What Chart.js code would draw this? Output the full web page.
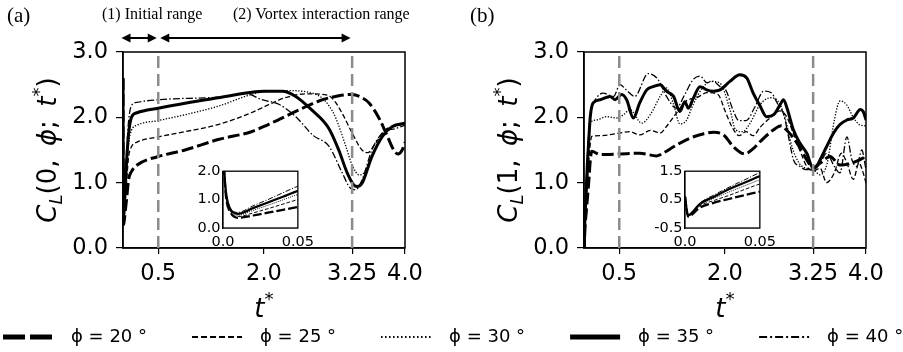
<!DOCTYPE html>
<html>
<head>
<meta charset="utf-8">
<script src="https://cdn.jsdelivr.net/npm/chart.js@4.4.1/dist/chart.umd.min.js"></script>
<style>
  html, body { margin: 0; padding: 0; background: #fff; overflow: hidden; }
  #fig { position: relative; width: 903px; height: 352px; overflow: hidden; }
  #fig canvas { position: absolute; }
  .note { position: absolute; font-family: 'Liberation Serif', 'Times New Roman', serif; color: #000; white-space: nowrap; line-height: 1; }
</style>
</head>
<body>
<div id="fig">
  <canvas id="chartA" width="440" height="330" style="left:0px;top:0px;width:440px;height:330px"></canvas>
  <canvas id="chartB" width="463" height="330" style="left:440px;top:0px;width:463px;height:330px"></canvas>
  <canvas id="insetA" width="142" height="92" style="left:178px;top:160px;width:142px;height:92px"></canvas>
  <canvas id="insetB" width="142" height="92" style="left:640px;top:160px;width:142px;height:92px"></canvas>
  <canvas id="legend" width="1100" height="260" style="left:-42px;top:283px;width:1100px;height:260px"></canvas>
  <div class="note" style="left:7px;top:5px;font-size:21px">(a)</div>
  <div class="note" style="left:470px;top:5px;font-size:21px">(b)</div>
  <div class="note" style="left:102px;top:6px;font-size:16px">(1) Initial range</div>
  <div class="note" style="left:233px;top:6px;font-size:16px">(2) Vortex interaction range</div>
</div>
<script>
// lift coefficient histories, one pair of arrays per flapping angle
const phiLabels = ['ϕ = 20 °', 'ϕ = 25 °', 'ϕ = 30 °', 'ϕ = 35 °', 'ϕ = 40 °'];
const tickT = [0.5, 2.0, 3.25, 4.0];
const insetTickT = [0, 0.05];
const markerT = [0.5, 3.25];
const rangeEdges = [0, 0.5, 3.25];

// (a) C_L(0, phi; t*)
const tA20 = [0, 0.002, 0.005, 0.01, 0.02, 0.03, 0.04, 0.05, 0.08, 0.12, 0.2, 0.5, 0.88, 1.35, 1.82, 2.06, 2.45, 2.78, 3.06, 3.25, 3.39, 3.49, 3.63, 3.75, 3.84, 3.9, 3.96, 4.0];
const cA20 = [2.6, 1.1, 0.55, 0.36, 0.44, 0.54, 0.64, 0.74, 1.05, 1.17, 1.27, 1.40, 1.50, 1.66, 1.78, 1.89, 2.09, 2.25, 2.33, 2.35, 2.30, 2.22, 1.99, 1.71, 1.50, 1.44, 1.50, 1.62];
const tA25 = [0, 0.002, 0.005, 0.01, 0.02, 0.03, 0.04, 0.05, 0.08, 0.12, 0.2, 0.5, 0.88, 1.35, 1.82, 2.06, 2.3, 2.6, 2.9, 3.0, 3.11, 3.25, 3.39, 3.47, 3.58, 3.72, 3.86, 4.0];
const cA25 = [2.6, 1.15, 0.6, 0.4, 0.53, 0.68, 0.84, 1.0, 1.4, 1.55, 1.62, 1.70, 1.78, 1.89, 2.07, 2.19, 2.30, 2.36, 2.34, 2.25, 2.06, 1.76, 1.50, 1.46, 1.60, 1.81, 1.86, 1.90];
const tA30 = [0, 0.002, 0.005, 0.01, 0.02, 0.03, 0.04, 0.05, 0.08, 0.12, 0.2, 0.5, 0.88, 1.35, 1.82, 2.0, 2.3, 2.6, 2.82, 2.92, 3.01, 3.16, 3.25, 3.35, 3.41, 3.53, 3.68, 3.82, 4.0];
const cA30 = [2.6, 1.2, 0.62, 0.45, 0.62, 0.8, 0.99, 1.18, 1.6, 1.80, 1.88, 1.95, 2.04, 2.17, 2.35, 2.39, 2.41, 2.39, 2.30, 2.18, 2.01, 1.56, 1.27, 1.12, 1.14, 1.40, 1.72, 1.86, 1.90];
const tA35 = [0, 0.002, 0.005, 0.01, 0.02, 0.03, 0.04, 0.05, 0.08, 0.12, 0.2, 0.5, 0.9, 1.35, 1.8, 2.0, 2.26, 2.45, 2.68, 2.92, 3.06, 3.18, 3.27, 3.32, 3.39, 3.53, 3.68, 3.82, 4.0];
const cA35 = [2.6, 1.25, 0.65, 0.5, 0.7, 0.9, 1.1, 1.31, 1.75, 2.0, 2.07, 2.14, 2.22, 2.30, 2.38, 2.40, 2.40, 2.32, 2.11, 1.83, 1.50, 1.15, 0.97, 0.94, 0.99, 1.40, 1.71, 1.86, 1.91];
const tA40 = [0, 0.002, 0.005, 0.01, 0.02, 0.03, 0.04, 0.05, 0.08, 0.12, 0.2, 0.5, 1.35, 1.75, 1.97, 2.21, 2.45, 2.7, 2.92, 3.11, 3.23, 3.3, 3.39, 3.53, 3.68, 3.87, 4.0];
const cA40 = [2.6, 1.3, 0.7, 0.55, 0.78, 1.0, 1.24, 1.47, 1.95, 2.18, 2.23, 2.27, 2.31, 2.36, 2.27, 2.20, 2.01, 1.72, 1.56, 1.15, 0.91, 0.89, 1.04, 1.50, 1.76, 1.83, 1.88];

// (b) C_L(1, phi; t*)
const tB20 = [0, 0.002, 0.01, 0.02, 0.03, 0.04, 0.05, 0.07, 0.09, 0.11, 0.23, 0.51, 0.79, 1.03, 1.15, 1.27, 1.5, 1.7, 1.84, 1.98, 2.12, 2.28, 2.4, 2.5, 2.69, 2.8, 2.87, 3.02, 3.16, 3.25, 3.35, 3.49, 3.63, 3.77, 3.91, 4.0];
const cB20 = [0.6, -0.1, 0.22, 0.4, 0.53, 0.66, 0.78, 1.05, 1.35, 1.48, 1.43, 1.44, 1.45, 1.41, 1.47, 1.55, 1.68, 1.75, 1.77, 1.73, 1.55, 1.44, 1.52, 1.63, 1.81, 1.87, 1.81, 1.61, 1.35, 1.23, 1.30, 1.40, 1.27, 1.29, 1.35, 1.40];
const tB25 = [0, 0.002, 0.01, 0.02, 0.03, 0.04, 0.05, 0.07, 0.09, 0.11, 0.23, 0.51, 0.65, 0.79, 0.94, 1.08, 1.17, 1.3, 1.45, 1.6, 1.75, 1.9, 2.0, 2.1, 2.2, 2.3, 2.4, 2.5, 2.65, 2.78, 2.88, 2.97, 3.06, 3.16, 3.25, 3.35, 3.44, 3.55, 3.65, 3.73, 3.82, 3.9, 3.96, 4.0];
const cB25 = [0.6, -0.08, 0.28, 0.48, 0.66, 0.86, 1.05, 1.35, 1.6, 1.71, 1.72, 1.76, 1.78, 1.73, 1.80, 1.76, 1.86, 2.05, 2.25, 2.30, 2.38, 2.35, 2.10, 1.85, 1.72, 1.78, 1.72, 1.85, 2.0, 2.1, 2.0, 1.75, 1.5, 1.25, 1.18, 1.22, 1.0, 1.15, 1.45, 1.3, 1.05, 1.3, 1.15, 0.99];
const tB30 = [0, 0.002, 0.01, 0.02, 0.03, 0.04, 0.05, 0.07, 0.085, 0.18, 0.32, 0.46, 0.56, 0.65, 0.82, 0.94, 1.08, 1.17, 1.27, 1.36, 1.45, 1.55, 1.68, 1.8, 1.93, 2.07, 2.15, 2.25, 2.35, 2.5, 2.65, 2.75, 2.85, 2.95, 3.05, 3.15, 3.25, 3.35, 3.45, 3.55, 3.63, 3.72, 3.82, 3.92, 4.0];
const cB30 = [0.6, -0.06, 0.32, 0.56, 0.78, 0.99, 1.2, 1.6, 1.91, 1.96, 2.01, 1.99, 2.04, 2.12, 1.91, 2.04, 2.32, 2.45, 2.2, 1.9, 1.95, 2.2, 2.45, 2.55, 2.52, 2.12, 1.81, 1.78, 1.9, 2.2, 2.3, 2.25, 2.0, 1.55, 1.3, 1.22, 1.2, 1.12, 1.3, 1.95, 2.25, 2.2, 2.0, 1.88, 1.87];
const tB35 = [0, 0.002, 0.01, 0.02, 0.03, 0.04, 0.05, 0.07, 0.09, 0.13, 0.23, 0.37, 0.44, 0.535, 0.605, 0.70, 0.79, 0.89, 0.98, 1.08, 1.17, 1.27, 1.36, 1.43, 1.48, 1.55, 1.645, 1.74, 1.83, 1.93, 2.07, 2.21, 2.31, 2.40, 2.50, 2.59, 2.69, 2.78, 2.83, 2.88, 2.97, 3.06, 3.16, 3.25, 3.30, 3.35, 3.44, 3.54, 3.63, 3.73, 3.82, 3.92, 3.96, 4.0];
const cB35 = [0.6, -0.05, 0.35, 0.62, 0.88, 1.1, 1.33, 1.7, 2.02, 2.22, 2.27, 2.32, 2.27, 2.35, 2.27, 1.99, 2.22, 2.42, 2.47, 2.50, 2.40, 2.32, 2.09, 2.24, 2.14, 2.29, 2.47, 2.42, 2.40, 2.42, 2.55, 2.65, 2.60, 2.37, 2.17, 2.01, 2.04, 2.19, 2.27, 2.14, 1.81, 1.61, 1.45, 1.22, 1.25, 1.35, 1.55, 1.76, 1.89, 1.96, 1.99, 2.12, 2.09, 1.96];
const tB40 = [0, 0.002, 0.01, 0.02, 0.03, 0.04, 0.05, 0.07, 0.09, 0.11, 0.16, 0.27, 0.42, 0.51, 0.6, 0.72, 0.91, 1.05, 1.17, 1.31, 1.43, 1.55, 1.65, 1.74, 1.83, 1.93, 2.02, 2.1, 2.2, 2.3, 2.42, 2.55, 2.65, 2.75, 2.83, 2.92, 2.97, 3.06, 3.15, 3.25, 3.35, 3.44, 3.55, 3.63, 3.73, 3.8, 3.87, 3.94, 4.0];
const cB40 = [0.6, -0.08, 0.38, 0.68, 0.95, 1.2, 1.45, 1.8, 2.05, 2.14, 2.27, 2.37, 2.32, 2.50, 2.42, 2.32, 2.67, 2.58, 2.32, 2.14, 2.35, 2.58, 2.63, 2.53, 2.55, 2.47, 2.40, 2.15, 1.95, 1.95, 2.15, 2.40, 2.38, 2.20, 2.05, 1.60, 1.35, 1.25, 1.20, 1.20, 1.30, 1.45, 1.25, 1.15, 1.70, 1.35, 1.25, 1.50, 1.20];

const timesA = [tA20, tA25, tA30, tA35, tA40];
const valuesA = [cA20, cA25, cA30, cA35, cA40];
const timesB = [tB20, tB25, tB30, tB35, tB40];
const valuesB = [cB20, cB25, cB30, cB35, cB40];

// line style per angle: thick dash, dash, dots, solid, dash-dot
const lineStyles = [
  { width: 3, dash: [12, 4] },
  { width: 1.3, dash: [5, 2.5] },
  { width: 1.3, dash: [1.3, 1.6] },
  { width: 3, dash: [] },
  { width: 1.3, dash: [7, 2.2, 1.5, 2.2] }
];
const legendStyles = [
  { width: 5, dash: [22, 5] },
  { width: 2, dash: [6, 3] },
  { width: 2, dash: [1.5, 2.5] },
  { width: 5, dash: [] },
  { width: 2, dash: [8, 3, 2, 3] }
];

const FONT = 'DejaVu Sans';
const fmtTick = v => Number.isInteger(v) ? v.toFixed(1) : String(v);

function buildSets(times, values, k) {
  return times.map((ts, i) => ({
    label: phiLabels[i],
    data: ts.map((t, j) => ({ x: t, y: values[i][j] })),
    borderColor: '#000',
    borderWidth: lineStyles[i].width * k,
    borderDash: lineStyles[i].dash.map(d => d * k),
    pointRadius: 0,
    cubicInterpolationMode: 'monotone',
    fill: false
  }));
}

function drawRuns(ctx, runs, size, base) {
  const parts = runs.map(r => {
    const s = r.sub || r.sup ? size * 0.7 : size;
    const font = (r.it ? 'italic ' : '') + s + 'px "' + FONT + '"';
    ctx.font = font;
    return { r, font, w: ctx.measureText(r.text).width };
  });
  let x = -parts.reduce((a, p) => a + p.w, 0) / 2;
  parts.forEach(p => {
    const shift = p.r.sub ? 0.22 * size : p.r.sup ? -0.45 * size : 0;
    ctx.font = p.font;
    ctx.fillText(p.r.text, x, base + shift);
    x += p.w;
  });
}

const framePlugin = {
  id: 'frame',
  beforeDatasetsDraw(chart, args, opts) {
    if (!opts.fill) return;
    const a = chart.chartArea, ctx = chart.ctx;
    ctx.save();
    ctx.fillStyle = '#fff';
    ctx.fillRect(a.left, a.top, a.width, a.height);
    ctx.restore();
  },
  afterDatasetsDraw(chart, args, opts) {
    const a = chart.chartArea, ctx = chart.ctx;
    ctx.save();
    ctx.strokeStyle = '#000';
    ctx.lineWidth = opts.width || 1.5;
    ctx.strokeRect(a.left, a.top, a.width, a.height);
    ctx.restore();
  }
};

const markerPlugin = {
  id: 'markers',
  afterDatasetsDraw(chart) {
    const { ctx, chartArea: a } = chart;
    const x = chart.scales.x;
    ctx.save();
    ctx.strokeStyle = '#8c8c8c';
    ctx.lineWidth = 2.5;
    ctx.setLineDash([12, 6]);
    markerT.forEach(t => {
      const px = x.getPixelForValue(t);
      ctx.beginPath();
      ctx.moveTo(px, a.bottom);
      ctx.lineTo(px, a.top);
      ctx.stroke();
    });
    ctx.restore();
  }
};

const axisTextPlugin = {
  id: 'axisText',
  afterDraw(chart, args, opts) {
    const { ctx, chartArea: a } = chart;
    ctx.save();
    ctx.fillStyle = '#000';
    ctx.textBaseline = 'alphabetic';
    ctx.translate(a.left - opts.yOffset, (a.top + a.bottom) / 2);
    ctx.rotate(-Math.PI / 2);
    drawRuns(ctx, opts.yRuns, opts.size, 0.36 * opts.size);
    ctx.restore();
    ctx.save();
    ctx.fillStyle = '#000';
    ctx.textBaseline = 'alphabetic';
    ctx.translate((a.left + a.right) / 2, opts.xBaseline);
    drawRuns(ctx, opts.xRuns, opts.size, 0);
    ctx.restore();
  }
};

const rangeArrowPlugin = {
  id: 'rangeArrows',
  afterDraw(chart, args, opts) {
    const ctx = chart.ctx, x = chart.scales.x, y = opts.y, head = 9, half = 4.5;
    ctx.save();
    ctx.strokeStyle = '#000';
    ctx.fillStyle = '#000';
    ctx.lineWidth = 2;
    for (let i = 0; i < rangeEdges.length - 1; i++) {
      const x0 = x.getPixelForValue(rangeEdges[i]) + (i ? 2 : -1.5);
      const x1 = x.getPixelForValue(rangeEdges[i + 1]) - 1.5;
      ctx.beginPath();
      ctx.moveTo(x0 + head - 1, y);
      ctx.lineTo(x1 - head + 1, y);
      ctx.stroke();
      ctx.beginPath();
      ctx.moveTo(x0, y); ctx.lineTo(x0 + head, y - half); ctx.lineTo(x0 + head, y + half); ctx.closePath();
      ctx.moveTo(x1, y); ctx.lineTo(x1 - head, y - half); ctx.lineTo(x1 - head, y + half); ctx.closePath();
      ctx.fill();
    }
    ctx.restore();
  }
};

function yRuns(first) {
  return [
    { text: 'C', it: true }, { text: 'L', it: true, sub: true },
    { text: '(' + first + ',\u2009 ' }, { text: 'ϕ', it: true }, { text: ';\u2009 ' },
    { text: 't', it: true }, { text: '*', sup: true }, { text: ')' }
  ];
}

function mainChart(id, times, values, area, first, withArrows) {
  const canvas = document.getElementById(id);
  const plugins = [framePlugin, markerPlugin, axisTextPlugin];
  if (withArrows) plugins.push(rangeArrowPlugin);
  return new Chart(canvas, {
    type: 'line',
    data: { datasets: buildSets(times, values, 1) },
    options: {
      responsive: false,
      animation: false,
      events: [],
      layout: { padding: { top: area.top, right: canvas.width - area.right, left: 0, bottom: 0 } },
      scales: {
        x: {
          type: 'linear', min: 0, max: 4,
          afterBuildTicks: s => { s.ticks = tickT.map(v => ({ value: v })); },
          afterFit: s => { s.height = canvas.height - area.bottom; },
          ticks: { autoSkip: false, maxRotation: 0, padding: 7, color: '#000', font: { family: FONT, size: 22.5 }, callback: fmtTick },
          grid: { drawOnChartArea: false, color: '#000', lineWidth: 1.2, tickLength: 6 },
          border: { color: '#000', width: 1.5 }
        },
        y: {
          type: 'linear', min: 0, max: 3,
          afterFit: s => { s.width = area.left; },
          ticks: { stepSize: 1, padding: 8, color: '#000', font: { family: FONT, size: 22.5 }, callback: v => v.toFixed(1) },
          grid: { drawOnChartArea: false, color: '#000', lineWidth: 1.2, tickLength: 7 },
          border: { color: '#000', width: 1.5 }
        }
      },
      plugins: {
        legend: { display: false },
        tooltip: { enabled: false },
        frame: { width: 1.5 },
        axisText: { yRuns: yRuns(first), xRuns: [{ text: 't', it: true }, { text: '*', sup: true }], size: 26, yOffset: 76, xBaseline: 317 },
        rangeArrows: { y: 38 }
      }
    },
    plugins
  });
}

function insetChart(id, times, values, yMin, yMax, area) {
  const canvas = document.getElementById(id);
  return new Chart(canvas, {
    type: 'line',
    data: { datasets: buildSets(times, values, 0.75) },
    options: {
      responsive: false,
      animation: false,
      events: [],
      layout: { padding: { top: area.top, right: canvas.width - area.right, left: 0, bottom: 0 } },
      scales: {
        x: {
          type: 'linear', min: 0, max: 0.05,
          afterBuildTicks: s => { s.ticks = insetTickT.map(v => ({ value: v })); },
          afterFit: s => { s.height = canvas.height - area.bottom; },
          ticks: { autoSkip: false, maxRotation: 0, padding: 6, color: '#000', font: { family: FONT, size: 14.5 }, callback: fmtTick },
          grid: { display: false, drawTicks: false },
          border: { color: '#000', width: 1.3 }
        },
        y: {
          type: 'linear', min: yMin, max: yMax,
          afterFit: s => { s.width = area.left; },
          ticks: { stepSize: 1, padding: 2.5, color: '#000', font: { family: FONT, size: 14.5 }, callback: v => v.toFixed(1) },
          grid: { display: false, drawTicks: false },
          border: { color: '#000', width: 1.3 }
        }
      },
      plugins: {
        legend: { display: false },
        tooltip: { enabled: false },
        frame: { fill: true, width: 1.3 }
      }
    },
    plugins: [framePlugin]
  });
}

mainChart('chartA', timesA, valuesA, { left: 123, top: 52, right: 405, bottom: 248 }, 0, true);
mainChart('chartB', timesB, valuesB, { left: 144, top: 52, right: 426, bottom: 248 }, 1, false);
insetChart('insetA', timesA, valuesA, 0, 2, { left: 45, top: 10, right: 126, bottom: 68 });
insetChart('insetB', timesB, valuesB, -0.5, 1.5, { left: 45, top: 10, right: 125, bottom: 68 });

// shared legend along the bottom
new Chart(document.getElementById('legend'), {
  type: 'line',
  data: {
    datasets: phiLabels.map((label, i) => ({
      label: '\u2002' + label,
      data: [],
      borderColor: '#000',
      backgroundColor: '#000',
      borderWidth: legendStyles[i].width,
      borderDash: legendStyles[i].dash
    }))
  },
  options: {
    responsive: false,
    animation: false,
    events: [],
    scales: { x: { display: false }, y: { display: false } },
    plugins: {
      tooltip: { enabled: false },
      legend: {
        position: 'top',
        align: 'start',
        labels: {
          usePointStyle: true,
          pointStyle: 'line',
          pointStyleWidth: 50,
          padding: 45,
          color: '#000',
          font: { family: FONT, size: 18 },
          generateLabels: chart => Chart.defaults.plugins.legend.labels.generateLabels(chart).map((item, i) => ({
            ...item,
            strokeStyle: '#000',
            lineWidth: legendStyles[i].width,
            lineDash: legendStyles[i].dash,
            lineCap: 'butt'
          }))
        }
      }
    }
  }
});
</script>
</body>
</html>
